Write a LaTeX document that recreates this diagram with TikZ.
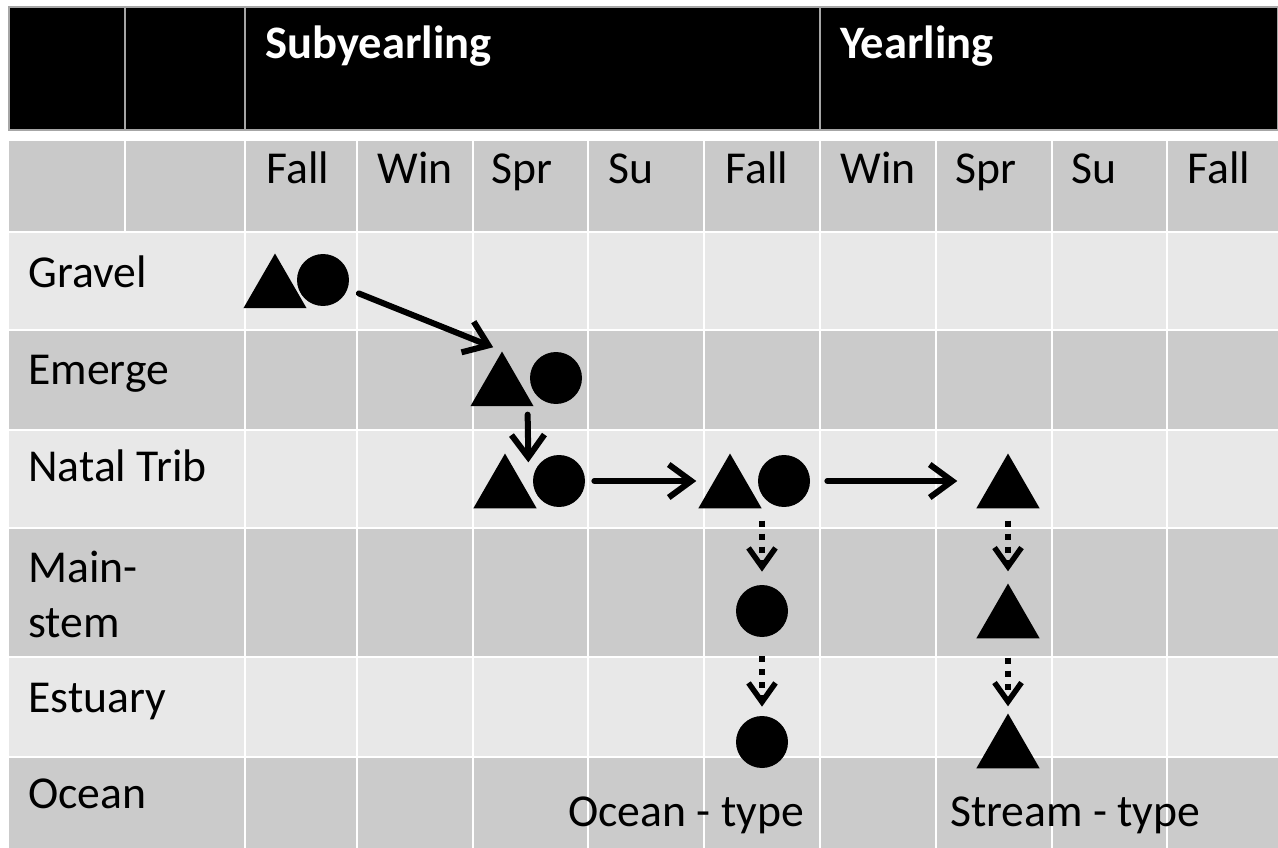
\documentclass[tikz,border=0pt]{standalone}
\usepackage{fontspec}
\setmainfont{Carlito}
\usetikzlibrary{shapes.geometric,arrows.meta,positioning,calc}
\definecolor{rowlight}{RGB}{232,232,232}
\definecolor{rowdark}{RGB}{203,203,203}
\definecolor{headgray}{RGB}{201,201,201}
\tikzset{
    tri/.style = {
        regular polygon,
        regular polygon sides=3,
        fill=black,
        inner sep=0pt,
        minimum size=1.46cm
    },
    circ/.style = {
        circle,
        fill=black,
        inner sep=0pt,
        minimum size=1.04cm
    },
    flow/.style = {
        -{Straight Barb[length=0.45cm,width=0.66cm]},
        line width=0.12cm,
        line cap=round
    },
    move/.style = {
        -{Straight Barb[length=0.38cm,width=0.54cm]},
        line width=0.11cm,
        dash pattern=on 0.12cm off 0.14cm
    },
    rowlabel/.style = {
        anchor=base west,
        inner sep=0pt,
        align=left,
        font=\fontsize{26}{31}\selectfont
    },
    stage/.style = {
        anchor=base west,
        inner sep=0pt,
        text=white,
        font=\fontsize{26.5}{31}\selectfont\bfseries
    },
    grid/.style = {
        white,
        line width=0.04cm
    }
}
\begin{document}
\begin{tikzpicture}[x=0.02cm, y=-0.02cm]
    \useasboundingbox (0,0) rectangle (1278,848);
    % table background
    \fill[black] (9,7) rectangle (1278,130);
    \draw[gray!70, line width=0.6pt] (9,7) rectangle (1278,130);
    \fill[headgray] (9,141) rectangle (1278,232);
    \foreach \top/\bot/\col in {232/330/rowlight, 330/430/rowdark, 430/528/rowlight,
                                528/657/rowdark, 657/757/rowlight, 757/848/rowdark}
        \fill[\col] (9,\top) rectangle (1278,\bot);

    % grid lines
    \foreach \x in {125,245,820}
        \draw[gray!70, line width=0.03cm] (\x,7) -- (\x,130);
    \foreach \x in {125,245,357,473,588,704,820,936,1052,1167}
        \draw[grid] (\x,141) -- (\x,232);
    \foreach \x in {245,357,473,588,704,820,936,1052,1167}
        \draw[grid] (\x,232) -- (\x,848);
    \foreach \y in {232,330,430,528,657,757}
        \draw[grid] (9,\y) -- (1278,\y);

    % headings
    \node[stage] (subyearling) at (265,59) {Subyearling};
    \node[stage] (yearling) at (840,59) {Yearling};
    \foreach \x/\season/\name in {266/Fall/fall1, 377/Win/win1, 491/Spr/spr1, 608/Su/su1, 725/Fall/fall2,
                                  840/Win/win2, 955/Spr/spr2, 1071/Su/su2, 1187/Fall/fall3}
        \node[rowlabel] (\name) at (\x,183) {\season};

    % habitats
    \node[rowlabel] (gravel) at (28,287) {Gravel};
    \node[rowlabel] (emerge) at (28,384) {Emerge};
    \node[rowlabel] (natal) at (28,481) {Natal Trib};
    \node[rowlabel] (mainstem) at (28,637) {Main-\\stem};
    \node[rowlabel] (estuary) at (28,712) {Estuary};
    \node[rowlabel] (ocean) at (28,808) {Ocean};

    % fish
    \node[tri] (gravelTri) at (275,290) {};
    \node[circ] (gravelCirc) at (323,280) {};
    \node[tri] (emergeTri) at (502,388) {};
    \node[circ] (emergeCirc) at (556,378) {};
    \node[tri] (natalTri) at (505,490) {};
    \node[circ] (natalCirc) at (559,481) {};
    \node[tri] (natalTri2) at (730,490) {};
    \node[circ] (natalCirc2) at (784,481) {};
    \node[tri] (natalTri3) at (1008,490) {};
    \node[circ] (mainCirc) at (762,611) {};
    \node[tri] (mainTri) at (1008,620) {};
    \node[circ] (estCirc) at (762,742) {};
    \node[tri] (estTri) at (1008,750) {};

    % life histories
    \node[rowlabel] (oceanType) at (568,826) {Ocean - type};
    \node[rowlabel] (streamType) at (950,826) {Stream - type};

    % arrows
    \draw[flow, shorten <=0.24cm, shorten >=0.19cm] (gravelCirc.-20) -- (emergeTri.corner 1);
    \draw[flow, shorten <=0.36cm] ($(emergeCirc.south west)+(-10,0)$) -- ($(natalCirc.north west)+(-12,0)$);
    \draw[flow, shorten <=0.18cm, shorten >=0.03cm] (natalCirc.east) -- (natalCirc.east -| natalTri2.corner 2);
    \draw[flow, shorten <=0.34cm, shorten >=0.37cm] (natalCirc2.east) -- (natalCirc2.east -| natalTri3.corner 2);
    \draw[move, shorten <=0.24cm, shorten >=0.26cm] (mainCirc.north |- natalTri2.corner 3) -- (mainCirc.north);
    \draw[move, shorten <=0.38cm, shorten >=0.18cm] (mainCirc.south) -- (estCirc.north);
    \draw[move, shorten <=0.24cm, shorten >=0.23cm] (natalTri3.south) -- (mainTri.corner 1);
    \draw[move, shorten <=0.38cm, shorten >=0.13cm] (mainTri.south) -- (estTri.corner 1);
\end{tikzpicture}
\end{document}
